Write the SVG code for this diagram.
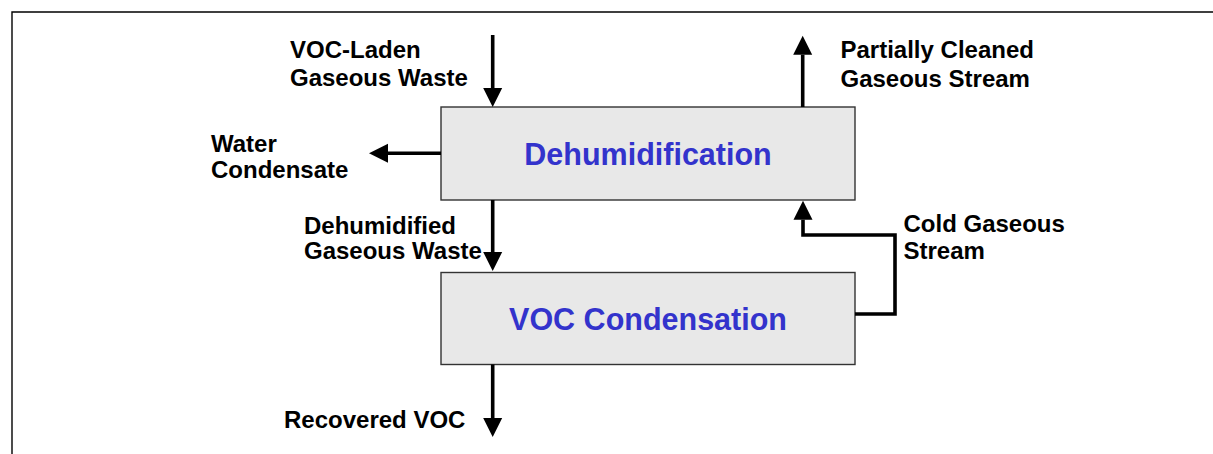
<svg xmlns="http://www.w3.org/2000/svg" width="1213" height="454" viewBox="0 0 1213 454">
<style>
.lbl{font-family:"Liberation Sans",Arial,sans-serif;font-weight:bold;font-size:24px;fill:#000}
.ttl{font-family:"Liberation Sans",Arial,sans-serif;font-weight:bold;font-size:30.5px;fill:#3333CC;text-anchor:middle}
.box{fill:#E8E8E8;stroke:#333;stroke-width:1.4}
.con{fill:none;stroke:#000;stroke-width:3.6;marker-end:url(#ah)}
</style>
<defs>
<marker id="ah" markerUnits="userSpaceOnUse" markerWidth="20" markerHeight="20" refX="0" refY="9.5" orient="auto" viewBox="0 0 20 19">
<path d="M0,0 L19,9.5 L0,19 Z" fill="#000"/>
</marker>
</defs>
<rect width="1213" height="454" fill="#fff"/>
<path d="M12,454 V12 H1213" fill="none" stroke="#000" stroke-width="1.4"/>
<g id="dehumidification">
<rect class="box" x="441" y="107" width="414" height="93"/>
<text class="ttl" x="648" y="165">Dehumidification</text>
</g>
<g id="voc-condensation">
<rect class="box" x="441" y="272.5" width="414" height="92"/>
<text class="ttl" x="648" y="329.5">VOC Condensation</text>
</g>
<g id="connectors">
<path class="con" d="M492.7,35 V88"/>
<path class="con" d="M441,153.3 H388"/>
<path class="con" d="M492.7,200 V252"/>
<path class="con" d="M492.7,364.5 V418"/>
<path class="con" d="M855,314 H895 V235 H803 V219.7"/>
<path class="con" d="M802.7,107 V54.7"/>
</g>
<g id="labels">
<text class="lbl" x="290" y="58.3">VOC-Laden</text>
<text class="lbl" x="290" y="86">Gaseous Waste</text>
<text class="lbl" x="211" y="151.7">Water</text>
<text class="lbl" x="211" y="178.3">Condensate</text>
<text class="lbl" x="304" y="233.5">Dehumidified</text>
<text class="lbl" x="304" y="259.3">Gaseous Waste</text>
<text class="lbl" x="903.5" y="231.7">Cold Gaseous</text>
<text class="lbl" x="903.5" y="259">Stream</text>
<text class="lbl" x="284" y="428.3">Recovered VOC</text>
<text class="lbl" x="840.5" y="58.3">Partially Cleaned</text>
<text class="lbl" x="840.5" y="86.7">Gaseous Stream</text>
</g>
</svg>
